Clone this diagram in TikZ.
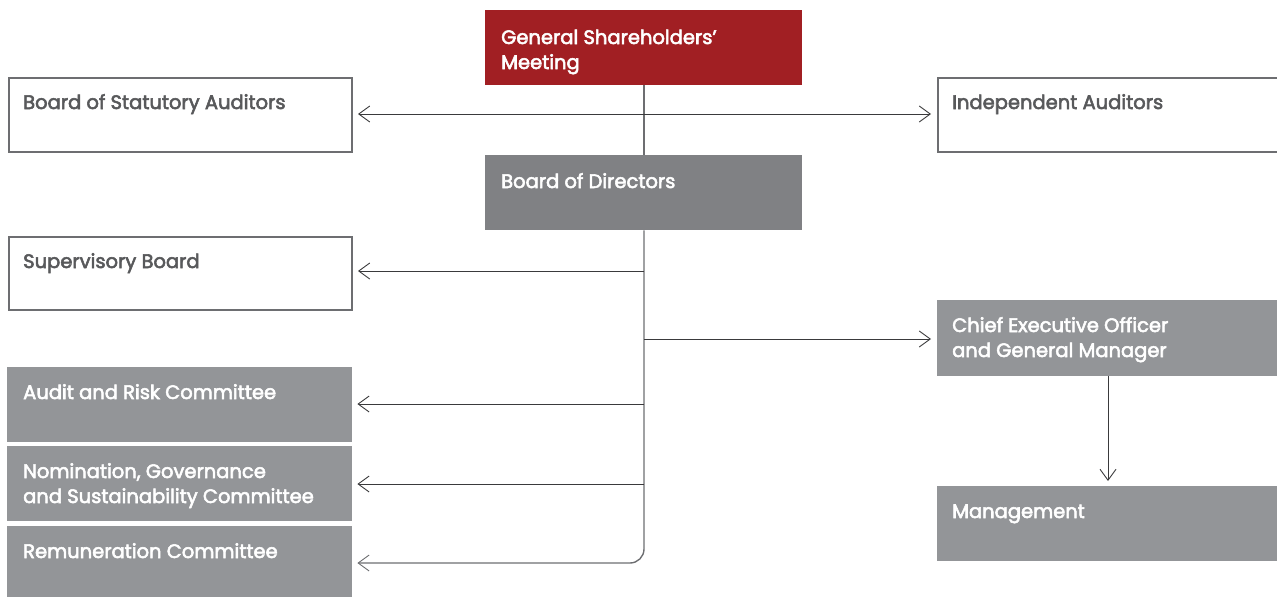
\documentclass[tikz,border=0pt]{standalone}
\usepackage{fontspec}
\setmainfont{Poppins}
\newfontfamily\boxfont{Poppins}[FakeBold=2.8]
\usetikzlibrary{arrows.meta}
\definecolor{meetingred}{HTML}{A11F23}
\definecolor{boardgray}{HTML}{808184}
\definecolor{unitgray}{HTML}{939598}
\definecolor{framegray}{HTML}{6D6E71}
\definecolor{inkgray}{HTML}{58595B}
\definecolor{linkgray}{HTML}{3A3A3C}
\tikzset{
  barb/.tip={Straight Barb[length=11pt,width=16pt,line width=0.9pt]},
  boxbase/.style={rectangle, inner sep=0pt, anchor=north west},
  outlinebox/.style={boxbase, draw=framegray, line width=2pt, fill=white},
  boardbox/.style={boxbase, fill=boardgray},
  unitbox/.style={boxbase, fill=unitgray},
  redbox/.style={boxbase, fill=meetingred},
  lightlabel/.style={anchor=base west, inner sep=0pt, text=white, align=left,
    font=\boxfont\fontsize{19.5}{25}\selectfont},
  darklabel/.style={lightlabel, text=inkgray},
  link/.style={draw=linkgray, line width=0.9pt, -{barb}},
  trunk/.style={draw=framegray, line width=1.4pt},
}
% box: name, x, y, width, height, style
\newcommand{\orgbox}[6]{%
  \node[#6, minimum width=#4pt, minimum height=#5pt] (#1) at (#2,#3) {};}
\begin{document}
\begin{tikzpicture}[x=1pt,y=-1pt]
\useasboundingbox (0,0) rectangle (1277,597);
\clip (0,0) rectangle (1277,597);

% boxes
\orgbox{gsm}{485}{10}{317}{75}{redbox}
\orgbox{bod}{485}{155}{317}{75}{boardbox}
\orgbox{bsa}{8}{77}{343}{74}{outlinebox}
\orgbox{ia}{937}{77}{350}{74}{outlinebox}
\orgbox{sb}{8}{236}{343}{73}{outlinebox}
\orgbox{arc}{7}{367}{345}{75}{unitbox}
\orgbox{ngs}{7}{446}{345}{75}{unitbox}
\orgbox{rc}{7}{526}{345}{80}{unitbox}
\orgbox{ceo}{937}{300}{345}{76}{unitbox}
\orgbox{mgmt}{937}{486}{345}{75}{unitbox}

% texts (two-line labels sit on the baseline of their last line)
\node[lightlabel] (tgsm) at (501,69) {General Shareholders’\\Meeting};
\node[lightlabel] (tbod) at (501,188) {Board of Directors};
\node[darklabel]  (tbsa) at (23,109) {Board of Statutory Auditors};
\node[darklabel]  (tia)  at (952,109) {Independent Auditors};
\node[darklabel]  (tsb)  at (23,268) {Supervisory Board};
\node[lightlabel] (tarc) at (23,399) {Audit and Risk Committee};
\node[lightlabel] (tngs) at (23,503) {Nomination, Governance\\and Sustainability Committee};
\node[lightlabel] (trc)  at (23,558) {Remuneration Committee};
\node[lightlabel] (tceo) at (952,357) {Chief Executive Officer\\and General Manager};
\node[lightlabel] (tmgmt) at (952,518) {Management};

% branch points on the trunk
\coordinate (tr1) at (644,114);
\coordinate (tr2) at (644,271);
\coordinate (tr3) at (644,339);
\coordinate (tr4) at (644,404);
\coordinate (tr5) at (644,484);

% trunk from the meeting down to the committees
\draw[trunk] (gsm.south -| tr1) -- (bod.north -| tr1);
\draw[trunk, rounded corners=14pt, -{barb}]
  (bod.south -| tr1) -- (644,563) -- ([xshift=5pt]rc.east |- 0,563);

% auditors
\draw[link, {barb}-{barb}]
  ([xshift=5pt]bsa.east |- tr1) -- ([xshift=-6pt]ia.west |- tr1);

% branches
\draw[link] (tr2) -- ([xshift=5pt]sb.east |- tr2);
\draw[link] (tr3) -- ([xshift=-6pt]ceo.west |- tr3);
\draw[link] (tr4) -- ([xshift=5pt]arc.east |- tr4);
\draw[link] (tr5) -- ([xshift=5pt]ngs.east |- tr5);
\draw[link] (ceo.south -| 1108,0) -- ([yshift=5pt]mgmt.north -| 1108,0);
\end{tikzpicture}
\end{document}
